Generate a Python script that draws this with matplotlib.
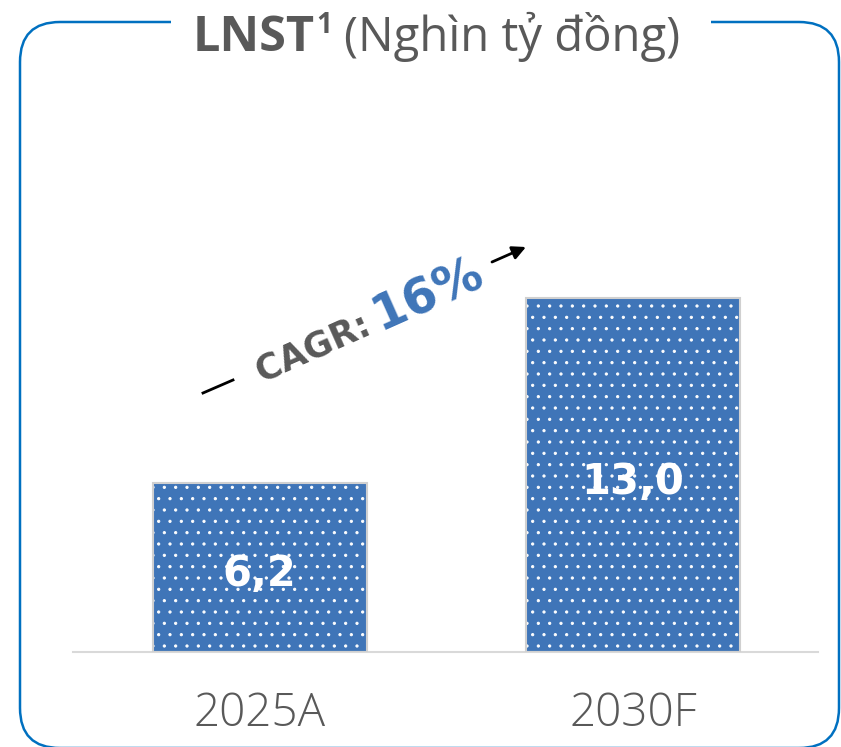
import matplotlib
matplotlib.use("Agg")
import math
import matplotlib.pyplot as plt
from matplotlib.patches import FancyBboxPatch, Rectangle

# data
categories = ["2025A", "2030F"]
values = [6.2, 13.0]
value_labels = ["6,2", "13,0"]
cagr_label = "CAGR: "
cagr_value = "16%"

BLUE = "#3F75B8"
FRAME = "#0070C0"
GREY = "#595959"

# render at a higher dpi so the dot hatch gets the right spacing;
# S converts "sizes meant for 100 dpi" to points at this dpi
DPI = 136
S = 100 / DPI
W, H = 841, 747
plt.rcParams["hatch.linewidth"] = 0.5
fig = plt.figure(figsize=(W / DPI, H / DPI), dpi=DPI)

# overlay in pixel coords for the frame and free text
ov = fig.add_axes([0, 0, 1, 1], zorder=5)
ov.set_xlim(0, W)
ov.set_ylim(H, 0)
ov.axis("off")
ov.patch.set_alpha(0)

# chart axes
ax = fig.add_axes([73 / W, (H - 652) / H, 745 / W, 552 / H])
x = list(range(len(categories)))
ax.bar(x, values, width=0.573, color=BLUE, hatch="..", edgecolor="white",
       linewidth=0, zorder=2)
ax.bar(x, values, width=0.573, fill=False, edgecolor="#D0D0D0",
       linewidth=1.5 * S, zorder=3)
ax.set_xlim(-0.5, 1.495)
ax.set_ylim(0, 20.25)
for s in ["top", "right", "left"]:
    ax.spines[s].set_visible(False)
ax.spines["bottom"].set_color("#D9D9D9")
ax.spines["bottom"].set_linewidth(1.5 * S)
ax.set_yticks([])
ax.set_xticks(x)
ax.set_xticklabels(categories, fontsize=33 * S, color=GREY,
                   fontfamily="Open Sans", fontweight="light")
ax.tick_params(axis="x", length=0, pad=28 * S)
ax.patch.set_alpha(0)

for xi, v, lab in zip(x, values, value_labels):
    ax.annotate(lab, (xi, v / 2), xytext=(0, -5 * S),
                textcoords="offset points", ha="center", va="center",
                color="white", fontsize=30 * S, fontweight="heavy",
                fontfamily="DejaVu Sans", zorder=4)

# rounded frame with a gap behind the title
frame = FancyBboxPatch((20, 22), 819, 726,
                       boxstyle="round,pad=0,rounding_size=40",
                       fill=False, edgecolor=FRAME, linewidth=1.8 * S)
ov.add_patch(frame)
ov.add_patch(Rectangle((171, 10), 540, 25, facecolor="white",
                       edgecolor="none", zorder=2))

# title pieces
fig.canvas.draw()
r = fig.canvas.get_renderer()
t1 = ov.text(193, 51, "LNST", fontsize=35 * S, fontweight="bold", color=GREY,
             fontfamily="Open Sans", va="baseline", ha="left", zorder=3)
bb = t1.get_window_extent(r)
t2 = ov.text(bb.x1 + 1, 33, "1", fontsize=20 * S, fontweight="bold",
             color=GREY, fontfamily="Open Sans", va="baseline", ha="left",
             zorder=3)
bb2 = t2.get_window_extent(r)
ov.text(bb2.x1 + 12, 51, "(Nghìn tỷ đồng)", fontsize=34 * S, color=GREY,
        fontfamily="Open Sans", va="baseline", ha="left", zorder=3)

# CAGR annotation, two sizes on one rotated baseline
ang = 24
x0, y0 = 262, 383
ov.text(x0, y0, cagr_label, rotation=ang, rotation_mode="anchor",
        fontsize=25 * S, fontweight="bold", color=GREY,
        fontfamily="DejaVu Sans", ha="left", va="baseline")
tmp = ov.text(0, 0, cagr_label, fontsize=25 * S, fontweight="bold",
              fontfamily="DejaVu Sans")
w = tmp.get_window_extent(r).width - 4
tmp.remove()
a = math.radians(ang)
ov.text(x0 + w * math.cos(a), y0 - w * math.sin(a), cagr_value,
        rotation=ang, rotation_mode="anchor", fontsize=35 * S,
        fontweight="bold", color=BLUE, fontfamily="DejaVu Sans",
        ha="left", va="baseline")
ov.plot([203, 233], [393, 380], color="black", lw=2 * S)
ov.annotate("", xy=(526, 247), xytext=(492, 262),
            arrowprops=dict(arrowstyle="-|>", color="black", lw=2 * S,
                            mutation_scale=20 * S, shrinkA=0, shrinkB=0))

fig.savefig("out.png", dpi=DPI, facecolor="white")
